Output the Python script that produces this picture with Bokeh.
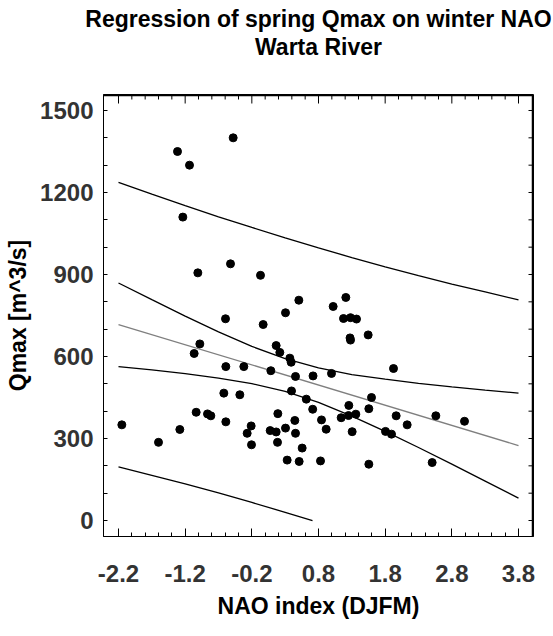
from bokeh.plotting import figure
from bokeh.models import Range1d, FixedTicker, Title
from bokeh.embed import file_html
from bokeh.resources import INLINE

# --- data ---
nao = [-0.48, -1.315, -1.135, -1.235, -1.01, -0.52, -0.07, 0.505, 0.305, -0.595,
       1.02, 1.21, 1.175, 1.28, 1.37, 1.545, 1.273, 1.28, 1.925, 0.718,
       0.995, 0.617, 0.713, 1.595, 1.255, 1.555, 0.845, 1.14, 1.25, 1.36,
       1.965, 2.56, 2.99, 0.915, 1.305, 1.805, 1.895, 2.13, 0.555, 0.83,
       1.555, 2.505, -0.03, -0.98, -1.065, 0.165, 0.22, 0.37, 0.39, -0.59,
       -0.32, 0.085, 0.455, 0.395, -0.62, -0.38, -1.035, -0.865, -0.815, 0.19,
       0.445, -2.15, -0.59, -0.21, -1.28, 0.075, 0.165, 0.305, -0.27, 0.455,
       -1.6, 0.185, -0.205, 0.33, 0.51]
qmax = [1400, 1350, 1300, 1110, 906, 939, 897, 806, 760, 738,
        783, 816, 739, 742, 737, 679, 668, 660, 556, 529,
        538, 444, 407, 450, 421, 409, 368, 376, 384, 389,
        383, 383, 363, 334, 325, 326, 316, 350, 265, 218,
        206, 212, 717, 646, 611, 640, 615, 594, 579, 563,
        563, 548, 527, 474, 466, 460, 396, 390, 383, 391,
        366, 350, 361, 346, 333, 329, 324, 338, 319, 319,
        286, 286, 277, 221, 216]

fit_x = [-2.2, 3.8]
fit_y = [717, 274]

band_x = [-2.2, -1.7, -1.2, -0.7, -0.2, 0.3, 0.8, 1.3, 1.8, 2.3, 2.8, 3.3, 3.8]
conf_upper = [869, 808, 748, 690, 637, 592, 558, 534, 517, 502, 489, 477, 466]
conf_lower = [563, 551, 537, 521, 501, 472, 432, 382, 326, 267, 206, 144, 82]
pred_upper = [1237, 1194, 1152, 1111, 1072, 1034, 997, 962, 928, 896, 865, 836, 807]
pred_lower_x = [-2.2, -1.7, -1.2, -0.7, -0.2, 0.3, 0.71]
pred_lower = [196, 165, 134, 101, 66, 30, 0]

x_ticks = [-2.2, -1.2, -0.2, 0.8, 1.8, 2.8, 3.8]
x_tick_labels = ["-2.2", "-1.2", "-0.2", "0.8", "1.8", "2.8", "3.8"]
x_minor = [-2.0, -1.8, -1.6, -1.4, -1.0, -0.8, -0.6, -0.4, 0.0, 0.2, 0.4, 0.6,
           1.0, 1.2, 1.4, 1.6, 2.0, 2.2, 2.4, 2.6, 3.0, 3.2, 3.4, 3.6]
y_ticks = [0, 300, 600, 900, 1200, 1500]
y_minor = [100, 200, 400, 500, 700, 800, 1000, 1100, 1300, 1400]

title1 = "Regression of spring Qmax on winter NAO"
title2 = "Warta River"

FONT = "Liberation Sans"
X0, X1 = -2.425, 4.025
Y0, Y1 = -58.5, 1558.5
FRAME_W, FRAME_H = 430, 442
PX_X = FRAME_W / (X1 - X0)   # pixels per data unit
PX_Y = FRAME_H / (Y1 - Y0)

p = figure(width=553, height=636,
           x_range=Range1d(X0, X1), y_range=Range1d(Y0, Y1),
           output_backend="svg", toolbar_location=None,
           min_border_left=103, min_border_right=20,
           min_border_top=94, min_border_bottom=100)
p.background_fill_color = "white"
p.border_fill_color = "white"
p.outline_line_color = "black"
p.outline_line_width = 1
p.xgrid.visible = False
p.ygrid.visible = False

def style_axis(ax, major_in, minor_in):
    ax.axis_line_color = "black"
    ax.major_tick_in = major_in
    ax.major_tick_out = 0
    ax.minor_tick_in = minor_in
    ax.minor_tick_out = 0
    ax.major_tick_line_color = "black"
    ax.minor_tick_line_color = "black"
    ax.major_label_text_font = FONT
    ax.major_label_text_font_style = "bold"
    ax.major_label_text_font_size = "24px"
    ax.major_label_text_color = "#333333"
    ax.axis_label_text_font = FONT
    ax.axis_label_text_font_style = "bold"
    ax.axis_label_text_font_size = "23px"
    ax.axis_label_text_color = "black"

xa = p.xaxis[0]
xa.ticker = FixedTicker(ticks=x_ticks, minor_ticks=x_minor)
xa.major_label_overrides = {v: s for v, s in zip(x_ticks, x_tick_labels)}
style_axis(xa, 8, 4)
xa.axis_label = "NAO index (DJFM)"
xa.major_label_standoff = 28
xa.axis_label_standoff = 8

ya = p.yaxis[0]
ya.ticker = FixedTicker(ticks=y_ticks, minor_ticks=y_minor)
style_axis(ya, 4, 4)
ya.axis_label = "Qmax [m^3/s]"
ya.major_label_standoff = 10
ya.axis_label_standoff = 6

# top and right frame edges, drawn just inside the frame with plain lines
YT = Y1 - 1.0 / PX_Y
XR = X1 - 1.0 / PX_X
p.line([X0, X1], [YT, YT], line_color="black", line_width=1.5)
p.line([XR, XR], [Y0, Y1], line_color="black", line_width=1.5)

# mirrored inward ticks on the top and right edges
top_xs = [[x, x] for x in x_ticks] + [[x, x] for x in x_minor]
top_ys = [[YT, YT - 8 / PX_Y] for _ in x_ticks] + [[YT, YT - 4 / PX_Y] for _ in x_minor]
p.multi_line(top_xs, top_ys, line_color="black", line_width=1)
y_all = y_ticks + y_minor
right_xs = [[XR, XR - 4 / PX_X] for _ in y_all]
right_ys = [[y, y] for y in y_all]
p.multi_line(right_xs, right_ys, line_color="black", line_width=1)

# bands and fit
p.line(band_x, pred_upper, line_color="black", line_width=1.3)
p.line(pred_lower_x, pred_lower, line_color="black", line_width=1.3)
p.line(band_x, conf_upper, line_color="black", line_width=1.3)
p.line(band_x, conf_lower, line_color="black", line_width=1.3)
p.line(fit_x, fit_y, line_color="#7f7f7f", line_width=1.3)

p.scatter(nao, qmax, size=8, marker="circle", fill_color="black", line_color="black")

# titles: a spacer next to the frame, then line 2, then line 1 (outermost)
p.add_layout(Title(text=" ", text_font=FONT, text_font_size="10px", standoff=22), "above")
p.add_layout(Title(text=title2, align="center", text_font=FONT, text_font_style="bold",
                   text_font_size="23px", text_color="black", standoff=0), "above")
p.add_layout(Title(text=title1, align="center", text_font=FONT, text_font_style="bold",
                   text_font_size="23px", text_color="black", standoff=0), "above")

open("out.html", "w").write(file_html(p, INLINE))
